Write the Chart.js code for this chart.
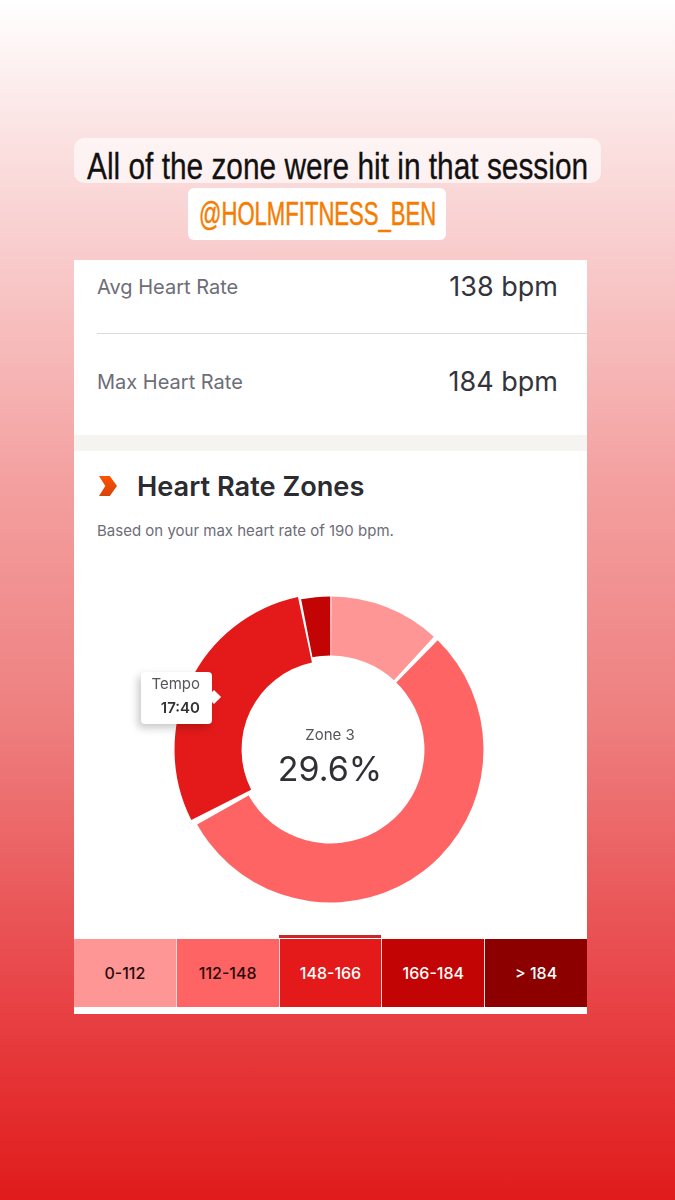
<!DOCTYPE html>
<html>
<head>
<meta charset="utf-8">
<script src="https://cdn.jsdelivr.net/npm/chart.js@4"></script>
<style>
html, body { margin: 0; padding: 0; }
body {
    position: relative; width: 675px; height: 1200px; overflow: hidden;
    font-family: Inter, sans-serif;
    background: linear-gradient(#ffffff 0px, #fbe3e3 130px, #f7bdbd 330px, #f4a0a0 480px, #ee7f7f 720px, #e84346 1000px, #e01b1b 1200px);
}
.abs { position: absolute; white-space: nowrap; }
#titleBox { left: 74px; top: 138px; width: 527px; height: 45px; background: rgba(255,255,255,.62); border-radius: 10px; }
#title { left: 87px; top: 143px; font: 37px/48px "Liberation Sans", sans-serif; color: #111; transform-origin: 0 0; -webkit-text-stroke: .3px #111; }
#handleBox { left: 188px; top: 188px; width: 258px; height: 52px; background: #fff; border-radius: 6px; }
#handle { left: 199px; top: 194px; font: 33px/40px "Liberation Sans", sans-serif; color: #f57c00; transform-origin: 0 0; -webkit-text-stroke: .5px #f57c00; }
#card { left: 74px; top: 260px; width: 513px; height: 754px; background: #fff; }
#band { left: 74px; top: 435px; width: 513px; height: 16px; background: #f5f4f0; }
#divider { left: 97px; top: 333px; width: 490px; height: 1px; background: #dcdcdc; }
.statLabel { font-size: 20px; line-height: 24px; color: #6d6d78; }
.statValue { font-size: 27px; line-height: 32px; color: #34343c; right: 117px; }
#heading { left: 137px; top: 471px; font-size: 27.2px; line-height: 32px; font-weight: 600; color: #2b2b30; }
#sub { left: 97px; top: 521px; font-size: 15px; line-height: 20px; color: #6d6d78; }
#chevron { left: 99px; top: 476px; width: 18px; height: 20px; background: linear-gradient(#fc5200, #d8430c); clip-path: polygon(0 0, 60% 0, 100% 50%, 60% 100%, 0 100%, 35% 50%); }
#chartWrap { left: 74px; top: 560px; width: 513px; height: 379px; }
#centerLabel { left: 230px; width: 200px; top: 725px; text-align: center; font-size: 15px; line-height: 20px; color: #55555c; }
#centerValue { left: 230px; width: 200px; top: 747px; text-align: center; font-size: 34px; line-height: 44px; color: #2f2f36; }
#tip { left: 141px; top: 672px; width: 71px; height: 52px; background: #fff; border-radius: 4px; box-shadow: -3px 4px 9px rgba(0,0,0,.22); font-size: 15px; color: #55555c; }
#tip:after { content: ""; position: absolute; right: -7px; top: 20px; width: 10px; height: 10px; background: #fff; transform: rotate(45deg); }
#tip div { position: absolute; right: 12px; line-height: 20px; }
#zones { left: 74px; top: 939px; width: 513px; height: 68px; display: flex; }
#zones div { flex: 1; display: flex; align-items: center; justify-content: center; font-size: 16px; font-weight: 500; box-sizing: border-box; border-right: 1px solid #f6d8d8; }
#zones div:last-child { border-right: 0; }
#activeBar { left: 279px; top: 935px; width: 102px; height: 3px; background: #c9262c; }
</style>
</head>
<body>
<div class="abs" id="titleBox"></div>
<div class="abs" id="title">All of the zone were hit in that session</div>
<div class="abs" id="handleBox"></div>
<div class="abs" id="handle">@HOLMFITNESS_BEN</div>
<div class="abs" id="card"></div>
<div class="abs statLabel" style="left:97px;top:275px">Avg Heart Rate</div>
<div class="abs statValue" style="top:271px">138 bpm</div>
<div class="abs" id="divider"></div>
<div class="abs statLabel" style="left:97px;top:370px">Max Heart Rate</div>
<div class="abs statValue" style="top:366px">184 bpm</div>
<div class="abs" id="band"></div>
<div class="abs" id="chevron"></div>
<div class="abs" id="heading">Heart Rate Zones</div>
<div class="abs" id="sub">Based on your max heart rate of 190 bpm.</div>
<div class="abs" id="chartWrap"><canvas id="zoneChart" width="513" height="379"></canvas></div>
<div class="abs" id="centerLabel">Zone 3</div>
<div class="abs" id="centerValue">29.6%</div>
<div class="abs" id="tip"><div style="top:2px">Tempo</div><div style="top:26px;font-weight:600;color:#333">17:40</div></div>
<div class="abs" id="activeBar"></div>
<div class="abs" id="zones"></div>

<script>
// values, % of session per zone
const zoneRanges = ['0-112', '112-148', '148-166', '166-184', '> 184'];
const zoneShare = [11.9, 55.4, 29.6, 3.1, 0];
const zoneColors = ['#ff9696', '#ff6464', '#e41a1a', '#c30404', '#8c0000'];
const zoneText = ['#2a0a0a', '#2a0a0a', '#ffffff', '#ffffff', '#ffffff'];
const activeZone = 2;

// no condensed font installed, so squeeze the caption to its width
function squeeze(id, width) {
    const el = document.getElementById(id);
    el.style.transform = 'scaleX(' + (width / el.offsetWidth) + ')';
}
squeeze('title', 501);
squeeze('handle', 237);

// range strip under the donut
const strip = document.getElementById('zones');
zoneRanges.forEach((range, i) => {
    const cell = document.createElement('div');
    cell.textContent = range;
    cell.style.background = zoneColors[i];
    cell.style.color = zoneText[i];
    strip.appendChild(cell);
});

// the hovered slice sits a bit wider than the rest
const growActive = {
    id: 'growActive',
    afterDatasetsUpdate(chart) {
        const arc = chart.getDatasetMeta(0).data[activeZone];
        arc.outerRadius += 3;
        arc.innerRadius -= 5;
    }
};

new Chart(document.getElementById('zoneChart'), {
    type: 'doughnut',
    data: {
        labels: zoneRanges,
        datasets: [{
            data: zoneShare,
            backgroundColor: zoneColors,
            borderWidth: 0,
            spacing: 4
        }]
    },
    options: {
        responsive: false,
        animation: false,
        radius: 151,
        cutout: '60.9%',
        layout: { padding: 0 },
        plugins: { legend: { display: false }, tooltip: { enabled: false } }
    },
    plugins: [growActive]
});
</script>
</body>
</html>
